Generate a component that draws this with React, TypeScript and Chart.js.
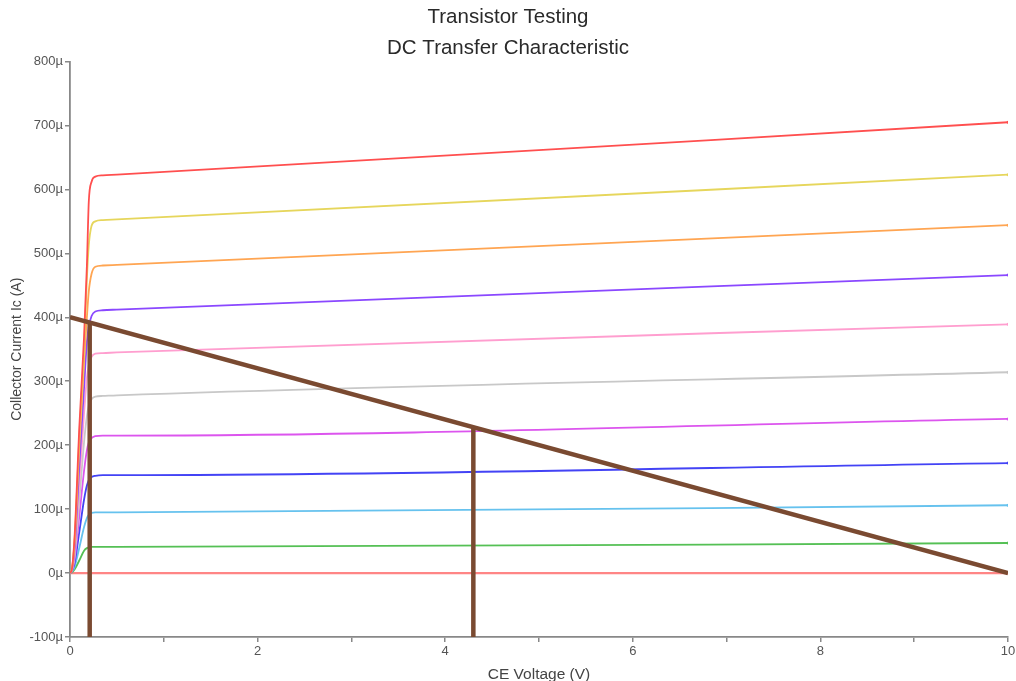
import React, { useEffect, useRef } from "react";
import { Chart, registerables } from "chart.js";

Chart.register(...registerables);

// CE voltage sample points (V)
const vce = [0, 0.02, 0.05, 0.1, 0.15, 0.18, 0.2, 0.23, 0.27, 0.35, 0.5, 10];

// Collector current curves (µA) for increasing base currents
const icCurve10 = [0, 6, 60, 230, 370, 480, 580, 612, 620, 622, 623, 705];
const icCurve9 = [0, 6, 55, 215, 350, 460, 512, 543, 550, 552, 553, 623];
const icCurve8 = [0, 6, 50, 200, 330, 400, 440, 468, 479, 481, 482, 544];
const icCurve7 = [0, 5, 40, 170, 290, 362, 385, 402, 409, 411, 412, 466];
const icCurve6 = [0, 5, 35, 145, 250, 305, 325, 338, 343, 344, 345, 389];
const icCurve5 = [0, 4, 28, 115, 205, 245, 262, 272, 276, 277, 278, 314];
const icCurve4 = [0, 3, 22, 90, 160, 192, 204, 211, 214, 215, 215, 241];
const icCurve3 = [0, 3, 16, 65, 115, 137, 145, 150, 152, 153, 153, 172];
const icCurve2 = [0, 2, 10, 40, 72, 86, 91, 94, 95, 95, 95, 106];
const icCurve1 = [0, 1, 6, 20, 35, 39, 40, 41, 41, 41, 41, 47];
const icCurve0 = [0, 0, 0, 0, 0, 0, 0, 0, 0, 0, 0, 0];

const curveColors = [
  "#ff4f4f",
  "#e6d65c",
  "#ffa552",
  "#8a48ff",
  "#ff9ecf",
  "#c8c8c8",
  "#dc55ee",
  "#4343f5",
  "#66c2ee",
  "#55c055",
  "#ff8585",
];

// Load line and operating-point markers
const loadLineV = [0, 10];
const loadLineI = [400, 0];
const qLine1V = [0.21, 0.21];
const qLine1I = [391, -100];
const qLine2V = [4.3, 4.3];
const qLine2I = [228, -100];

const yTicksMin = -100;
const yTicksMax = 800;
const xTicksMin = 0;
const xTicksMax = 10;

const FONT = "'Liberation Sans', Arial, Helvetica, sans-serif";
const BROWN = "#7a4a31";

function pts(xs: number[], ys: number[]) {
  return xs.map((x, i) => ({ x, y: ys[i] }));
}

export default function App() {
  const ref = useRef<HTMLCanvasElement | null>(null);

  useEffect(() => {
    if (!ref.current) return;
    const curves = [
      icCurve10,
      icCurve9,
      icCurve8,
      icCurve7,
      icCurve6,
      icCurve5,
      icCurve4,
      icCurve3,
      icCurve2,
      icCurve1,
      icCurve0,
    ];
    const brownDs = (xs: number[], ys: number[]) => ({
      data: pts(xs, ys),
      borderColor: BROWN,
      backgroundColor: BROWN,
      borderWidth: 4.5,
      pointRadius: 0,
      tension: 0,
      borderCapStyle: "butt" as const,
    });
    const curveDs = curves.map((c, i) => ({
      data: pts(vce, c),
      borderColor: curveColors[i],
      backgroundColor: curveColors[i],
      borderWidth: i === 10 ? 2.2 : 1.8,
      cubicInterpolationMode: "monotone" as const,
      pointRadius: (ctx: any) => (ctx.dataIndex === vce.length - 1 ? 1.5 : 0),
      pointBorderWidth: 0,
    }));

    const chart = new Chart(ref.current, {
      type: "line",
      data: {
        datasets: [
          brownDs(loadLineV, loadLineI),
          brownDs(qLine1V, qLine1I),
          brownDs(qLine2V, qLine2I),
          ...curveDs,
        ],
      },
      options: {
        animation: false,
        responsive: false,
        devicePixelRatio: 1,
        layout: { padding: 0 },
        plugins: {
          legend: { display: false },
          tooltip: { enabled: false },
          title: {
            display: true,
            text: ["Transistor Testing", "DC Transfer Characteristic"],
            color: "#2a2a2a",
            font: { family: FONT, size: 20.5, weight: "normal", lineHeight: 1.5 },
            padding: { top: 2, bottom: -2 },
          },
        },
        scales: {
          x: {
            type: "linear",
            min: xTicksMin,
            max: xTicksMax,
            afterFit: (s: any) => {
              s.height = 53;
              s.paddingRight = 8;
              s.paddingLeft = 0;
            },
            ticks: {
              stepSize: 1,
              autoSkip: false,
              maxRotation: 0,
              color: "#555",
              font: { family: FONT, size: 13 },
              padding: 2,
              callback: (v: any) => (Number(v) % 2 === 0 ? String(v) : ""),
            },
            grid: {
              display: true,
              drawOnChartArea: false,
              drawTicks: true,
              tickLength: 5,
              color: "#888",
              lineWidth: 1.5,
            },
            border: { display: true, color: "#888", width: 1.8 },
            title: {
              display: true,
              text: "CE Voltage (V)",
              color: "#444",
              font: { family: FONT, size: 15.5 },
              padding: { top: 0, bottom: 5.5 },
            },
          },
          y: {
            type: "linear",
            min: yTicksMin,
            max: yTicksMax,
            afterFit: (s: any) => {
              s.width = 70;
            },
            ticks: {
              stepSize: 100,
              color: "#555",
              font: { family: FONT, size: 13 },
              padding: 2,
              callback: (v: any) => `${v}µ`,
            },
            grid: {
              display: true,
              drawOnChartArea: false,
              drawTicks: true,
              tickLength: 5,
              color: "#888",
              lineWidth: 1.5,
            },
            border: { display: true, color: "#888", width: 1.8 },
            title: {
              display: true,
              text: "Collector Current Ic (A)",
              color: "#444",
              font: { family: FONT, size: 14 },
              padding: { top: 9, bottom: 0 },
            },
          },
        },
      },
    });
    return () => chart.destroy();
  }, []);

  return (
    <div
      style={{
        position: "fixed",
        left: 0,
        top: 0,
        width: 1016,
        height: 681,
        overflow: "hidden",
        background: "#fff",
      }}
    >
      <canvas ref={ref} width={1016} height={690} style={{ display: "block" }} />
    </div>
  );
}
